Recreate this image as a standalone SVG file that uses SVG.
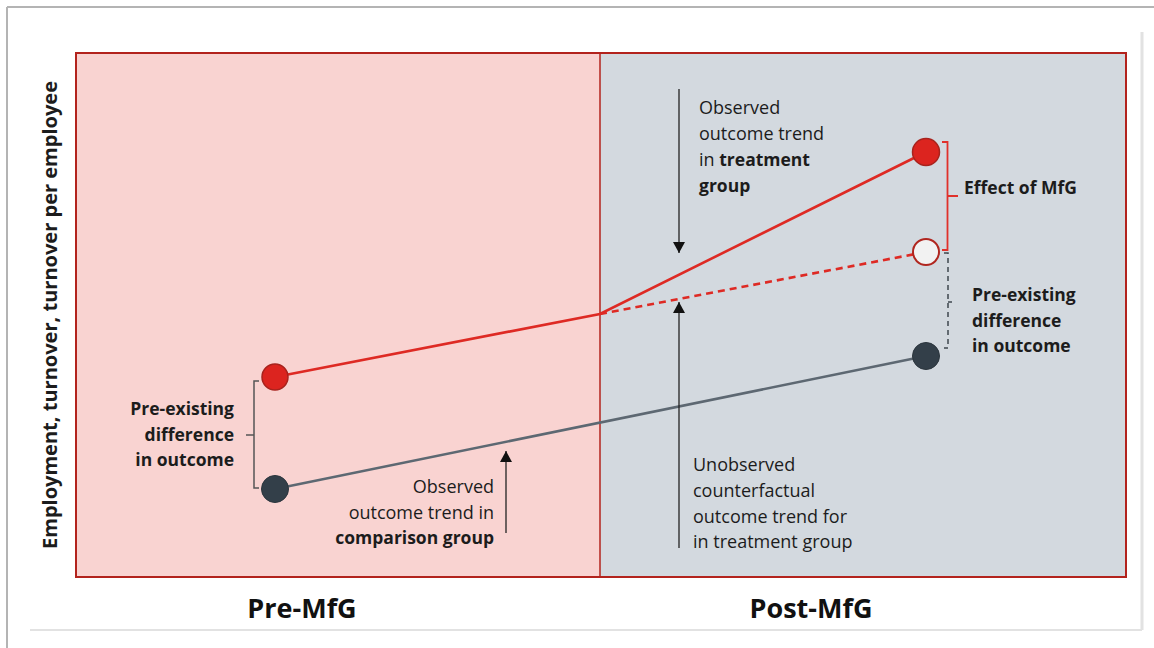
<svg xmlns="http://www.w3.org/2000/svg" width="1154" height="648" viewBox="0 0 1154 648">
  <style>
    .txt { font-family: "Open Sans", "Noto Sans", "Liberation Sans", sans-serif; font-size: 18px; fill: #1c1c1c; }
    .b { font-weight: bold; font-size: 17.5px; }
    .phase { font-family: "Open Sans", "Noto Sans", "Liberation Sans", sans-serif; font-size: 27px; font-weight: bold; fill: #111; }
    .arrow { stroke: #222; stroke-width: 1.3; fill: none; }
    .trend-red { stroke: #de2a24; stroke-width: 2.6; fill: none; }
    .trend-grey { stroke: #5d6872; stroke-width: 2.6; fill: none; }
    .dot-red { fill: #dc241f; stroke: #a8231d; stroke-width: 1.5; }
    .dot-dark { fill: #333f49; stroke: #2b353d; stroke-width: 1; }
    .dot-open { fill: #f2f2f2; stroke: #b0261f; stroke-width: 2; }
    .brace { stroke: #555; stroke-width: 1.5; fill: none; }
  </style>
  <defs>
    <marker id="head" viewBox="0 0 10 10" refX="10" refY="5" markerWidth="11" markerHeight="12" markerUnits="userSpaceOnUse" orient="auto" preserveAspectRatio="none">
      <path d="M0,0 L10,5 L0,10 Z" fill="#111"/>
    </marker>
  </defs>

  <rect width="1154" height="648" fill="#ffffff"/>

  <!-- page frame -->
  <g id="frame">
    <line x1="7" y1="7" x2="1154" y2="7" stroke="#b4b4b4" stroke-width="2"/>
    <line x1="7" y1="7" x2="7" y2="648" stroke="#b4b4b4" stroke-width="2"/>
    <line x1="1142" y1="32" x2="1142" y2="630" stroke="#e2e2e2" stroke-width="3"/>
    <line x1="30" y1="630" x2="1142" y2="630" stroke="#e2e2e2" stroke-width="2"/>
  </g>

  <!-- phase panels -->
  <g id="panels">
    <rect x="76" y="53" width="524" height="524" fill="#f9d3d1"/>
    <rect x="600" y="53" width="526" height="524" fill="#d3d9df"/>
    <rect x="76" y="53" width="1050" height="524" fill="none" stroke="#b3231d" stroke-width="2"/>
    <line x1="600" y1="53" x2="600" y2="577" stroke="#b3231d" stroke-width="1.5"/>
  </g>

  <!-- axis label -->
  <g id="y-axis-label">
    <text class="txt b" transform="translate(57,549) rotate(-90)" style="font-size:19.5px" textLength="468" lengthAdjust="spacingAndGlyphs">Employment, turnover, turnover per employee</text>
  </g>

  <!-- trend lines and annotation arrows -->
  <g id="connectors">
    <polyline class="trend-red" points="275,377 600,314 926,152"/>
    <line class="trend-red" x1="600" y1="314" x2="926" y2="252" stroke-dasharray="7,5" stroke-width="2"/>
    <line class="trend-grey" x1="275" y1="489" x2="926" y2="356"/>
    <line class="arrow" x1="679" y1="89" x2="679" y2="253" marker-end="url(#head)"/>
    <line class="arrow" x1="679" y1="548" x2="679" y2="302" marker-end="url(#head)"/>
    <line class="arrow" x1="506" y1="533" x2="506" y2="451" marker-end="url(#head)"/>
  </g>

  <!-- brackets -->
  <g id="bracket-pre">
    <path class="brace" d="M259,381 H254 V488 H259 M254,435 H246"/>
  </g>
  <g id="bracket-effect">
    <path d="M942,142 H947.5 V250 H942 M947.5,196 H958" stroke="#e0312b" stroke-width="1.8" fill="none"/>
  </g>
  <g id="bracket-post">
    <path d="M944,253 H948 V348 H944" stroke="#3f474f" stroke-width="1.5" fill="none" stroke-dasharray="5,4"/>
    <path d="M948,302 H952" stroke="#3f474f" stroke-width="1.5"/>
  </g>

  <!-- data points -->
  <g id="treat-pre"><circle class="dot-red" cx="275" cy="377" r="13"/></g>
  <g id="comp-pre"><circle class="dot-dark" cx="275" cy="489" r="13.5"/></g>
  <g id="treat-post"><circle class="dot-red" cx="926" cy="152" r="13.5"/></g>
  <g id="counterfactual-post"><circle class="dot-open" cx="926" cy="252" r="13"/></g>
  <g id="comp-post"><circle class="dot-dark" cx="926" cy="356" r="13.5"/></g>

  <!-- labels -->
  <g id="label-pre-diff">
    <text class="txt b" text-anchor="end" x="234" y="415">Pre-existing</text>
    <text class="txt b" text-anchor="end" x="234" y="440.5">difference</text>
    <text class="txt b" text-anchor="end" x="234" y="466">in outcome</text>
  </g>
  <g id="label-comparison">
    <text class="txt" text-anchor="end" x="494" y="493">Observed</text>
    <text class="txt" text-anchor="end" x="494" y="518.5">outcome trend in</text>
    <text class="txt b" text-anchor="end" x="494" y="544">comparison group</text>
  </g>
  <g id="label-treatment">
    <text class="txt" x="699" y="114">Observed</text>
    <text class="txt" x="699" y="140">outcome trend</text>
    <text class="txt" x="699" y="166">in <tspan class="b">treatment</tspan></text>
    <text class="txt b" x="699" y="191.5">group</text>
  </g>
  <g id="label-counterfactual">
    <text class="txt" x="693" y="471">Unobserved</text>
    <text class="txt" x="693" y="497">counterfactual</text>
    <text class="txt" x="693" y="522.5">outcome trend for</text>
    <text class="txt" x="693" y="548">in treatment group</text>
  </g>
  <g id="label-effect">
    <text class="txt b" x="964" y="194">Effect of MfG</text>
  </g>
  <g id="label-post-diff">
    <text class="txt b" x="972" y="301">Pre-existing</text>
    <text class="txt b" x="972" y="326.5">difference</text>
    <text class="txt b" x="972" y="352">in outcome</text>
  </g>

  <!-- phase captions -->
  <g id="phase-labels">
    <text class="phase" text-anchor="middle" x="302" y="618">Pre-MfG</text>
    <text class="phase" text-anchor="middle" x="811" y="618">Post-MfG</text>
  </g>
</svg>
